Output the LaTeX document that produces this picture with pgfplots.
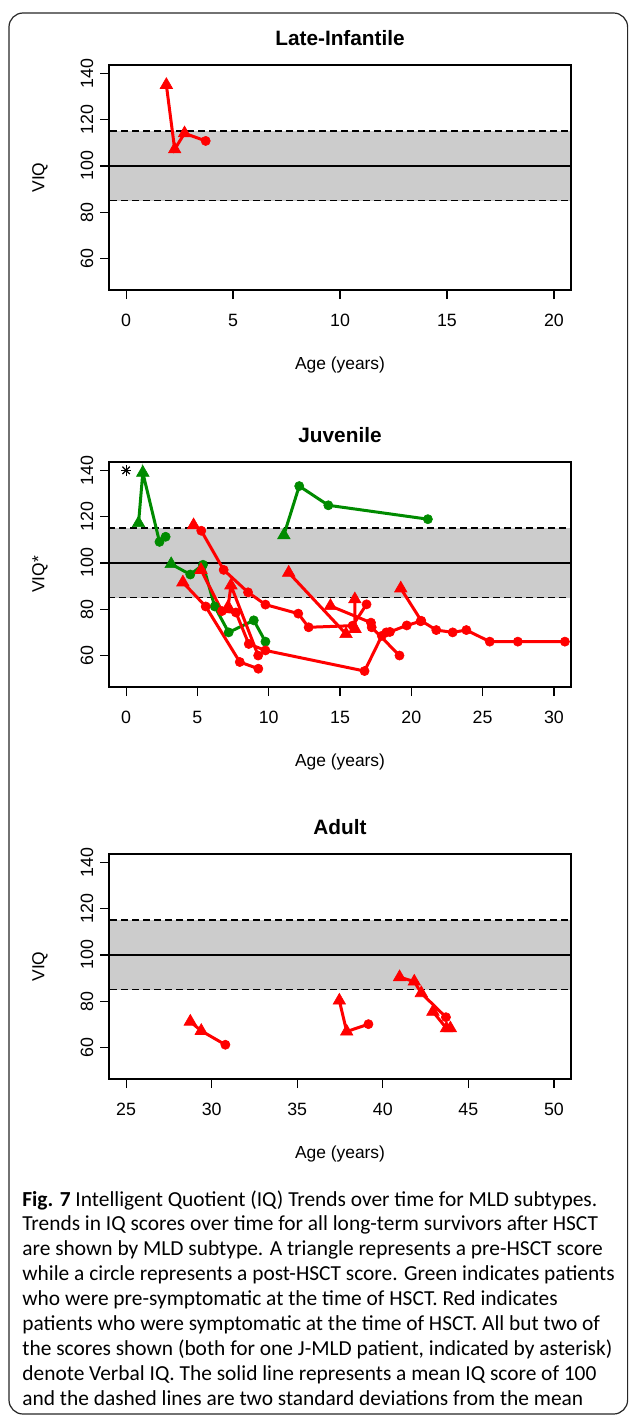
\documentclass[border=0pt]{standalone}
\usepackage{fontspec}
\setmainfont{Liberation Sans}
\newfontfamily\capfont{Carlito}
\usepackage{pgfplots}
\pgfplotsset{compat=1.18}
\definecolor{rred}{RGB}{255,0,0}
\definecolor{rgreen}{RGB}{0,139,0}
\definecolor{band}{RGB}{204,204,204}

\pgfplotsset{
  rpanel/.style={
    scale only axis, width=231pt, height=112.5pt,
    anchor=south west,
    axis on top,
    axis line style={line width=0.75pt},
    tick align=outside, xtick pos=lower, ytick pos=left,
    major tick length=4.5pt,
    tick style={line width=0.6pt, black},
    ymin=46.4, ymax=143.6,
    ytick={60,80,100,120,140},
    /pgf/number format/assume math mode=true,
    tick label style={font=\fontsize{8.9}{10}\selectfont},
    xticklabel style={anchor=center},
    xticklabel shift=10.5pt,
    yticklabel style={rotate=90, anchor=center},
    yticklabel shift=6.5pt,
    label style={font=\fontsize{8.7}{10}\selectfont},
    xlabel style={at={(axis description cs:0.5,-0.335)}, anchor=center},
    ylabel style={at={(axis description cs:-0.1494,0.5)}, anchor=center},
    title style={font=\bfseries\fontsize{10.4}{12}\selectfont, at={(axis description cs:0.5,1.067)}, anchor=center, yshift=0pt},
  },
}
\newcommand{\refbands}{%
  \addplot[draw=none, fill=band, forget plot] coordinates {(-100,85) (100,85) (100,115) (-100,115)} -- cycle;
  \addplot[black, line width=0.75pt, forget plot] coordinates {(-100,100) (100,100)};
  \addplot[black, line width=0.8pt, dash pattern=on 3.5pt off 2pt, forget plot] coordinates {(-100,85) (100,85)};
  \addplot[black, line width=0.8pt, dash pattern=on 3.5pt off 2pt, forget plot] coordinates {(-100,115) (100,115)};
}
\newcommand{\sline}[2]{\addplot[#1, line width=1.5pt, mark=none] coordinates {#2};}
\newcommand{\tri}[2]{\addplot[#1, only marks, mark=triangle*, mark size=3.6pt, mark options={line width=0.3pt}] coordinates {#2};}
\newcommand{\cir}[2]{\addplot[#1, only marks, mark=*, mark size=2.3pt, mark options={line width=0.3pt}] coordinates {#2};}

\begin{document}
\begin{tikzpicture}
\useasboundingbox (0pt,0pt) rectangle (314.5pt,-709pt);
\draw[rounded corners=7pt, line width=0.6pt, black!85] (4.5pt,-6.5pt) rectangle (313.8pt,-707pt);

% ---------------- Late-Infantile ----------------
\begin{axis}[rpanel, at={(54.5pt,-145pt)},
  xmin=-0.8, xmax=20.8, xtick={0,5,10,15,20},
  title={Late-Infantile}, xlabel={Age (years)}, ylabel={VIQ}]
\refbands
\sline{rred}{(1.88,135) (2.27,107.2) (2.73,114.1) (3.72,110.8)}
\tri{rred}{(1.88,135) (2.27,107.2) (2.73,114.1)}
\cir{rred}{(3.72,110.8)}
\end{axis}

% ---------------- Juvenile ----------------
\begin{axis}[rpanel, at={(54.5pt,-343.5pt)},
  xmin=-1.2, xmax=31.2, xtick={0,5,10,15,20,25,30},
  title={Juvenile}, xlabel={Age (years)}, ylabel={VIQ*}]
\refbands
% asterisk
\addplot[black, only marks, mark=+, mark size=2.6pt, mark options={line width=0.6pt}] coordinates {(0,140)};
\addplot[black, only marks, mark=x, mark size=2.6pt, mark options={line width=0.6pt}] coordinates {(0,140)};
% green (pre-symptomatic)
\sline{rgreen}{(0.87,117.2) (1.17,139) (2.34,109.1) (2.77,111.3)}
\sline{rgreen}{(3.16,99.5) (4.5,95) (5.39,99.2) (6.21,81.2) (7.19,70) (8.95,75.2) (9.77,66)}
\sline{rgreen}{(11.06,112) (12.14,133.2) (14.18,124.9) (21.16,118.9)}
\tri{rgreen}{(0.87,117.2) (1.17,139) (3.16,99.5) (11.06,112)}
\cir{rgreen}{(2.34,109.1) (2.77,111.3) (4.5,95) (5.39,99.2) (6.21,81.2) (7.19,70) (8.95,75.2) (9.77,66) (12.14,133.2) (14.18,124.9) (21.16,118.9)}
% red (symptomatic)
\sline{rred}{(4.73,116.3) (5.27,113.9) (6.84,97) (8.55,87.3) (9.77,82) (12.07,78.1) (12.8,72.2) (15.88,72.9) (16.86,82.1)}
\sline{rred}{(3.98,91.6) (5.58,81.2) (7.97,57.2) (9.27,54.3)}
\sline{rred}{(5.25,97) (6.72,79.2) (7.7,78.6) (8.6,65) (9.77,62.2) (16.72,53.3) (17.93,68.5) (18.25,70) (18.5,70.2) (19.68,73) (20.65,74.8)}
\sline{rred}{(7.15,81) (7.35,90.3) (9.26,60)}
\sline{rred}{(11.4,95.8) (15.42,69.3)}
\sline{rred}{(14.33,81.4) (17.17,74.2) (17.22,72.2) (19.17,60)}
\sline{rred}{(16.04,84.3) (16.05,71.5)}
\sline{rred}{(19.26,89) (20.7,75) (21.75,71) (22.9,70) (23.86,71) (25.5,66) (27.47,66) (30.77,66)}
\tri{rred}{(4.73,116.3) (3.98,91.6) (5.25,97) (7.15,81) (7.35,90.3) (11.4,95.8) (15.42,69.3) (14.33,81.4) (16.04,84.3) (16.05,71.5) (19.26,89)}
\cir{rred}{(5.27,113.9) (6.84,97) (8.55,87.3) (9.77,82) (12.07,78.1) (12.8,72.2) (15.88,72.9) (16.86,82.1) (5.58,81.2) (7.97,57.2) (9.27,54.3) (6.72,79.2) (7.7,78.6) (8.6,65) (9.77,62.2) (16.72,53.3) (17.93,68.5) (18.25,70) (18.5,70.2) (19.68,73) (20.65,74.8) (9.26,60) (17.17,74.2) (17.22,72.2) (19.17,60) (20.7,75) (21.75,71) (22.9,70) (23.86,71) (25.5,66) (27.47,66) (30.77,66)}
\end{axis}

% ---------------- Adult ----------------
\begin{axis}[rpanel, at={(54.5pt,-539.5pt)},
  xmin=24, xmax=51, xtick={25,30,35,40,45,50},
  title={Adult}, xlabel={Age (years)}, ylabel={VIQ}]
\refbands
\sline{rred}{(28.75,71.2) (29.39,67.2) (30.8,61.2)}
\sline{rred}{(37.46,80.3) (37.89,66.9) (39.16,70.1)}
\sline{rred}{(40.98,90.4) (41.84,88.5) (42.25,83.5) (43.69,73.1)}
\sline{rred}{(42.93,75.5) (43.72,68.3) (43.95,68.3)}
\tri{rred}{(28.75,71.2) (29.39,67.2) (37.46,80.3) (37.89,66.9) (40.98,90.4) (41.84,88.5) (42.25,83.5) (42.93,75.5) (43.72,68.3) (43.95,68.3)}
\cir{rred}{(30.8,61.2) (39.16,70.1) (43.69,73.1)}
\end{axis}

% ---------------- Caption ----------------
\node[anchor=north west, inner sep=0pt, align=left,
      font=\capfont\fontsize{10.7}{12.45}\selectfont] at (11pt,-595pt)
{\textbf{Fig. 7} Intelligent Quotient (IQ) Trends over time for MLD subtypes.\\
Trends in IQ scores over time for all long-term survivors after HSCT\\
are shown by MLD subtype. A triangle represents a pre-HSCT score\\
while a circle represents a post-HSCT score. Green indicates patients\\
who were pre-symptomatic at the time of HSCT. Red indicates\\
patients who were symptomatic at the time of HSCT. All but two of\\
the scores shown (both for one J-MLD patient, indicated by asterisk)\\
denote Verbal IQ. The solid line represents a mean IQ score of 100\\
and the dashed lines are two standard deviations from the mean};
\end{tikzpicture}
\end{document}
